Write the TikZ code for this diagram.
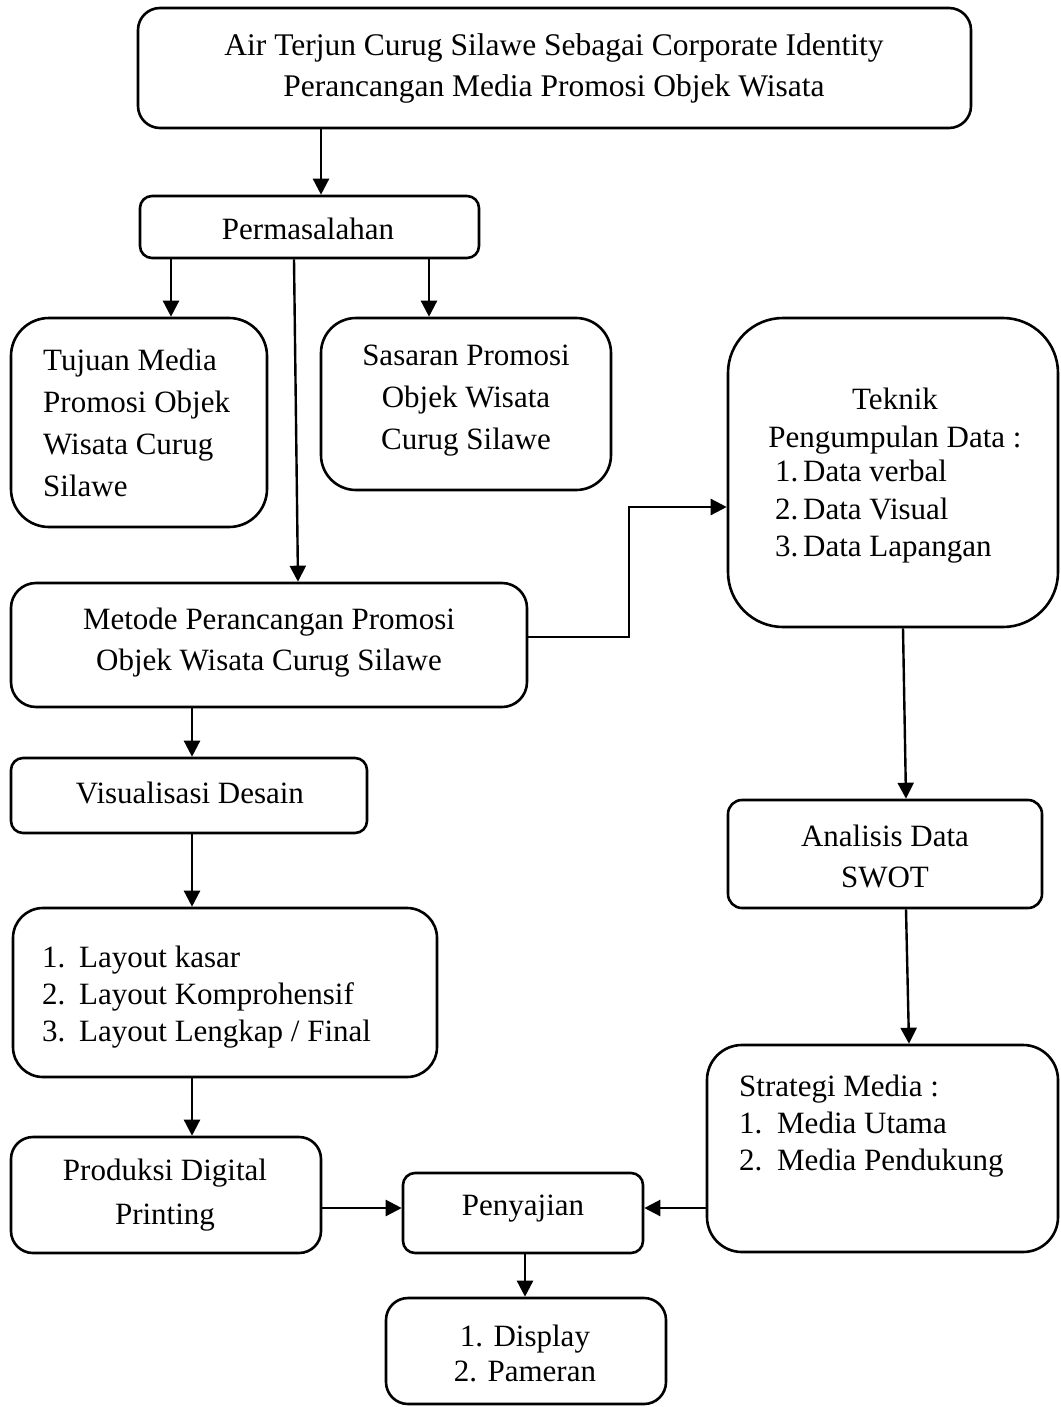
\documentclass[tikz,border=0pt]{standalone}
\usepackage{fontspec}
\setmainfont{Liberation Serif}
\usetikzlibrary{arrows.meta,calc}
\begin{document}
\begin{tikzpicture}[x=1pt,y=-1pt,
  box/.style={draw,line width=2.6pt,inner sep=0pt,rounded corners=#1},
  box/.default=12pt,
  txt/.style={inner sep=0pt,font=\fontsize{31}{42}\selectfont},
  arr/.style={line width=2.4pt,-{Triangle[length=16pt,width=16pt]}}]
\useasboundingbox (0,0) rectangle (1060,1407);
% boxes
\node[box=22pt,minimum width=833pt,minimum height=120pt] (top) at (554.5,68) {};
\node[box=12pt,minimum width=339pt,minimum height=62pt] (perm) at (309.5,227) {};
\node[box=38pt,minimum width=256pt,minimum height=209pt] (tuj) at (139,422.5) {};
\node[box=35pt,minimum width=290pt,minimum height=172pt] (sas) at (466,404) {};
\node[box=55pt,minimum width=330pt,minimum height=309pt] (tek) at (893,472.5) {};
\node[box=25pt,minimum width=516pt,minimum height=124pt] (met) at (269,645) {};
\node[box=12pt,minimum width=356pt,minimum height=75pt] (vis) at (189,795.5) {};
\node[box=30pt,minimum width=424pt,minimum height=169pt] (lay) at (225,992.5) {};
\node[box=14pt,minimum width=314pt,minimum height=108pt] (ana) at (885,854) {};
\node[box=35pt,minimum width=351pt,minimum height=207pt] (str) at (882.5,1148.5) {};
\node[box=22pt,minimum width=310pt,minimum height=116pt] (prod) at (166,1195) {};
\node[box=12pt,minimum width=240pt,minimum height=80pt] (pen) at (523,1213) {};
\node[box=22pt,minimum width=280pt,minimum height=106pt] (dis) at (526,1351) {};
% texts
\node[txt,align=center,font=\fontsize{31.5}{41}\selectfont] (topT) at (554,68) {Air Terjun Curug Silawe Sebagai Corporate Identity\\Perancangan Media Promosi Objek Wisata};
\node[txt] (permT) at (308,229) {Permasalahan};
\node[txt,align=left,anchor=west] (tujT) at (43,423) {Tujuan Media\\Promosi Objek\\Wisata Curug\\Silawe};
\node[txt,align=center] (sasT) at (466,401) {Sasaran Promosi\\Objek Wisata\\Curug Silawe};
\node[txt,align=center,font=\fontsize{31}{38}\selectfont] (tekT) at (895,421) {Teknik\\Pengumpulan Data :};
\node[txt,align=left,anchor=west,font=\fontsize{31}{37.5}\selectfont] (tekL) at (775,512) {\makebox[28pt][l]{1.}Data verbal\\\makebox[28pt][l]{2.}Data Visual\\\makebox[28pt][l]{3.}Data Lapangan};
\node[txt,align=center,font=\fontsize{31}{41}\selectfont] (metT) at (269,643) {Metode Perancangan Promosi\\Objek Wisata Curug Silawe};
\node[txt] (visT) at (190,793) {Visualisasi Desain};
\node[txt,align=left,anchor=west,font=\fontsize{31}{37}\selectfont] (layT) at (42,997) {\makebox[37pt][l]{1.}Layout kasar\\\makebox[37pt][l]{2.}Layout Komprohensif\\\makebox[37pt][l]{3.}Layout Lengkap / Final};
\node[txt,align=center,font=\fontsize{31}{41}\selectfont] (anaT) at (885,856) {Analisis Data\\SWOT};
\node[txt,align=left,anchor=west,font=\fontsize{31}{37}\selectfont] (strT) at (739,1126) {Strategi Media :\\\makebox[38pt][l]{1.}Media Utama\\\makebox[38pt][l]{2.}Media Pendukung};
\node[txt,align=center,font=\fontsize{31}{44}\selectfont] (prodT) at (165,1195) {Produksi Digital\\Printing};
\node[txt] (penT) at (523,1209) {Penyajian};
\node[txt,align=center,font=\fontsize{31}{35}\selectfont] (disT) at (525,1353) {1. Display\\2. Pameran};
% helper coordinates
\coordinate (x1) at (321,0);
\coordinate (x2) at (171,0);
\coordinate (x3) at (429,0);
\coordinate (x4a) at (294,0);
\coordinate (x4b) at (298,0);
\coordinate (k1) at (629,637);
\coordinate (k2) at (629,507);
\coordinate (x6) at (192,0);
\coordinate (x9a) at (903,0);
\coordinate (x9b) at (906,0);
\coordinate (x10b) at (909,0);
\coordinate (h1) at (0,1208);
\coordinate (x13) at (525,0);
% connectors
\draw[arr] (top.south -| x1) -- (perm.north -| x1);
\draw[arr] (perm.south -| x2) -- (tuj.north -| x2);
\draw[arr] (perm.south -| x3) -- (sas.north -| x3);
\draw[arr] (perm.south -| x4a) -- (met.north -| x4b);
\draw[arr] (met.east |- k1) -- (k1) -- (k2) -- (tek.west |- k2);
\draw[arr] (met.south -| x6) -- (vis.north -| x6);
\draw[arr] (vis.south -| x6) -- (lay.north -| x6);
\draw[arr] (lay.south -| x6) -- (prod.north -| x6);
\draw[arr] (tek.south -| x9a) -- (ana.north -| x9b);
\draw[arr] (ana.south -| x9b) -- (str.north -| x10b);
\draw[arr] (prod.east |- h1) -- (pen.west |- h1);
\draw[arr] (str.west |- h1) -- (pen.east |- h1);
\draw[arr] (pen.south -| x13) -- (dis.north -| x13);
\end{tikzpicture}
\end{document}
